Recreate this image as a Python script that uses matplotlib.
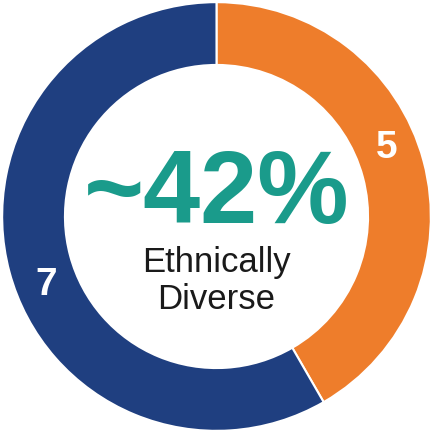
import numpy as np
import matplotlib
matplotlib.use("Agg")
import matplotlib.pyplot as plt

labels = ["Ethnically diverse", "Other"]
values = [5, 7]
colors = ["#EE7D2B", "#1F3F80"]
center_big = "~42%"
center_small = ["Ethnically", "Diverse"]

fig = plt.figure(figsize=(4.33, 4.33), dpi=100)
ax = fig.add_axes([0, 0, 1, 1])

wedges, _ = ax.pie(values, colors=colors, startangle=90, counterclock=False,
                   radius=0.99,
                   wedgeprops=dict(width=0.29, edgecolor="white", linewidth=1.5))
ax.set_xlim(-1, 1)
ax.set_ylim(-1, 1)
ax.set_aspect("equal")
ax.axis("off")

for w, v in zip(wedges, values):
    ang = np.deg2rad((w.theta1 + w.theta2) / 2 + 7)
    r = 0.85
    ax.text(r * np.cos(ang), r * np.sin(ang), str(v), color="white",
            fontsize=28, fontweight="bold", family="Liberation Sans",
            ha="center", va="center")

ax.text(0.0, -0.03, center_big, color="#1A9B8B", fontsize=74, fontweight="bold",
        family="Liberation Sans", ha="center", va="baseline")
ax.text(0.0, -0.256, center_small[0], color="#1a1a1a", fontsize=25,
        family="Liberation Sans", ha="center", va="baseline")
ax.text(0.0, -0.427, center_small[1], color="#1a1a1a", fontsize=25,
        family="Liberation Sans", ha="center", va="baseline")

fig.savefig("out.png", dpi=100)
